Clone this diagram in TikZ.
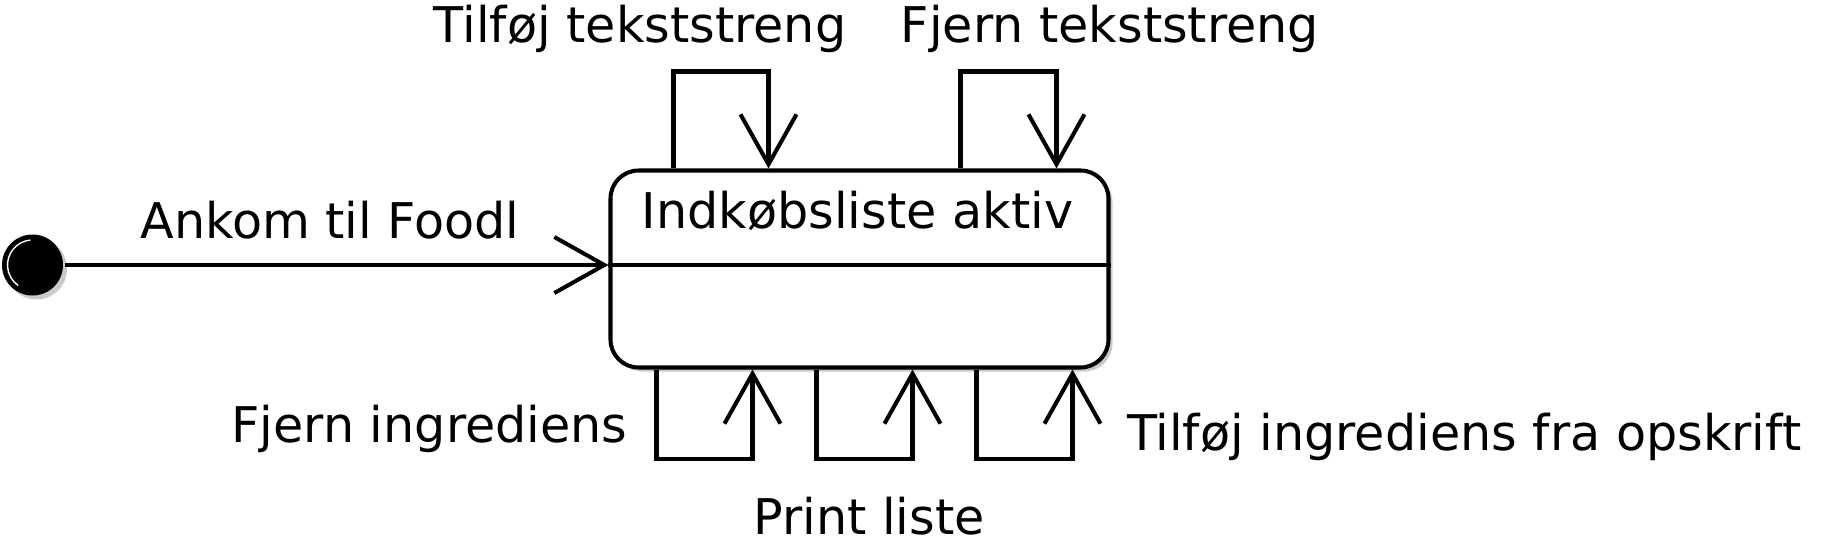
\documentclass[tikz,border=0pt]{standalone}
\usepackage{fontspec}
\setmainfont{DejaVu Sans}
\usetikzlibrary{arrows.meta, shadows}

\begin{document}
\begin{tikzpicture}[
        line width=2.3pt,
        every node/.style={font=\fontsize{28}{34}\selectfont, inner sep=0pt},
        trans/.style={-{Straight Barb[length=1cm, width=1.12cm]}},
        skygge/.style={drop shadow={shadow xshift=0.08cm, shadow yshift=-0.08cm, fill=black!35, opacity=0.6}}
    ]
        \useasboundingbox (0,0) rectangle (36.42,10.84);
        % Start state
        \node[circle, fill=black, minimum size=1.22cm, skygge] (start) at (0.65,5.54) {};
        \draw[white, line width=0.8pt] ([shift={(95:0.5)}]start.center) arc (95:235:0.5);
        % The state box
        \node[draw, rounded corners=0.56cm, minimum width=9.96cm, minimum height=3.94cm,
            fill=white, skygge] (aktiv) at (17.19,5.46) {};
        \node[anchor=base] (titel) at (17.15,6.28) {Indkøbsliste aktiv};
        \draw (aktiv.west |- start) -- (aktiv.east |- start);
        % Initial transition
        \draw[trans] (start) -- (start -| aktiv.west);
        \node[anchor=base] (ankom) at (6.6,6.08) {Ankom til Foodl};
        % Self transitions on top
        \foreach \a/\b in {1.3/3.2, 7.04/8.96}
            \draw[trans] ([xshift=\a cm]aktiv.north west) -- ++(0,1.94)
                -| ([xshift=\b cm]aktiv.north west);
        \node[anchor=base] (tilfoejtekst) at (12.8,10.0) {Tilføj tekststreng};
        \node[anchor=base] (fjerntekst) at (22.2,10.0) {Fjern tekststreng};
        % Self transitions below
        \foreach \a/\b in {0.96/2.88, 4.16/6.08, 7.36/9.28}
            \draw[trans] ([xshift=\a cm]aktiv.south west) -- ++(0,-1.78)
                -| ([xshift=\b cm]aktiv.south west);
        \node[anchor=base] (fjerning) at (8.59,2.0) {Fjern ingrediens};
        \node[anchor=base] (print) at (17.38,0.16) {Print liste};
        \node[anchor=base west] (opskrift) at (22.5,1.84) {Tilføj ingrediens fra opskrift};
    \end{tikzpicture}
\end{document}
